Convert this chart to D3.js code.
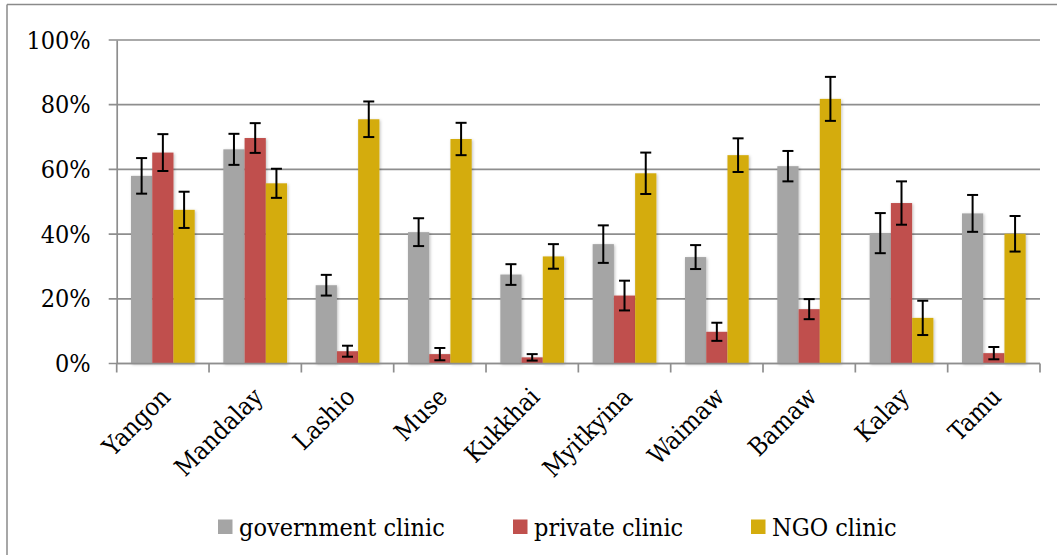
<!DOCTYPE html>
<html>
<head>
<meta charset="utf-8">
<script src="https://cdn.jsdelivr.net/npm/d3@7"></script>
<style>
  html, body { margin: 0; padding: 0; background: #fff; }
  svg { display: block; }
  text { font-family: "DejaVu Serif Condensed", "DejaVu Serif", serif; font-stretch: condensed; fill: #000; }
</style>
</head>
<body>
<svg id="chart" width="1057" height="555"></svg>
<script>
// Townships along the x axis
const townships = ["Yangon", "Mandalay", "Lashio", "Muse", "Kukkhai", "Myitkyina", "Waimaw", "Bamaw", "Kalay", "Tamu"];

// Clinic types (series)
const clinicTypes = ["government clinic", "private clinic", "NGO clinic"];

// Share of respondents per clinic type (%)
const governmentClinic = [58.0, 66.2, 24.2, 40.6, 27.5, 36.9, 32.9, 61.0, 40.3, 46.4];
const privateClinic    = [65.2, 69.7,  3.8,  2.9,  1.9, 21.0,  9.8, 16.8, 49.6,  3.2];
const ngoClinic        = [47.5, 55.7, 75.5, 69.4, 33.1, 58.8, 64.4, 81.8, 14.1, 40.1];

// Error-bar half widths (%)
const governmentErr = [5.5, 4.8, 3.2, 4.3, 3.2, 5.8, 3.7, 4.7, 6.2, 5.7];
const privateErr    = [5.7, 4.6, 1.7, 1.9, 1.0, 4.6, 2.8, 3.1, 6.7, 1.9];
const ngoErr        = [5.6, 4.5, 5.5, 5.0, 3.8, 6.4, 5.2, 6.8, 5.3, 5.5];

// Y-axis ticks
const yTicks = [0, 0.2, 0.4, 0.6, 0.8, 1.0];

const seriesValues = [governmentClinic, privateClinic, ngoClinic];
const seriesErrors = [governmentErr, privateErr, ngoErr];
const colors = ["#A5A5A5", "#C0504D", "#D4AC0D"];
const fontSize = "25px";

const svg = d3.select("#chart");

// drop shadow for the bars
const defs = svg.append("defs");
const f = defs.append("filter").attr("id", "shadow")
  .attr("x", "-30%").attr("y", "-10%").attr("width", "160%").attr("height", "120%");
f.append("feDropShadow").attr("dx", 1).attr("dy", 1).attr("stdDeviation", 1.6)
  .attr("flood-color", "#000").attr("flood-opacity", 0.25);

// outer frame
svg.append("line").attr("x1", 7).attr("x2", 1057).attr("y1", 4.5).attr("y2", 4.5)
  .attr("stroke", "#8a8a8a").attr("stroke-width", 1.5);
svg.append("line").attr("x1", 7).attr("x2", 7).attr("y1", 4.5).attr("y2", 555)
  .attr("stroke", "#8a8a8a").attr("stroke-width", 1.5);

const plotLeft = 116.7, plotRight = 1040, plotTop = 40, plotBottom = 363.5;

const x0 = d3.scaleBand().domain(townships).range([plotLeft, plotRight]).padding(0);
const x1 = d3.scaleBand().domain(d3.range(clinicTypes.length))
  .range([x0.bandwidth() * 0.155, x0.bandwidth() * 0.845]).padding(0);
const y = d3.scaleLinear().domain([0, 1]).range([plotBottom, plotTop]);

// gridlines
svg.append("g").selectAll("line").data(yTicks).join("line")
  .attr("x1", plotLeft - 8).attr("x2", plotRight)
  .attr("y1", d => y(d)).attr("y2", d => y(d))
  .attr("stroke", "#8e8e8e").attr("stroke-width", 1.7);

// y axis
const yAxis = d3.axisLeft(y).tickValues(yTicks).tickFormat(d3.format(".0%")).tickSize(0).tickPadding(26);
const gy = svg.append("g").attr("transform", `translate(${plotLeft},0)`).call(yAxis);
gy.select(".domain").attr("stroke", "#8e8e8e").attr("stroke-width", 1.7);
gy.selectAll("text")
  .style("font-family", '"DejaVu Serif Condensed", "DejaVu Serif", serif')
  .style("font-stretch", "condensed")
  .style("font-size", fontSize).attr("fill", "#000");

// bars
const groups = svg.append("g").selectAll("g").data(townships).join("g")
  .attr("transform", d => `translate(${x0(d)},0)`);

groups.selectAll("rect")
  .data((d, i) => seriesValues.map((s, k) => ({ k, v: s[i] / 100 })))
  .join("rect")
  .attr("x", d => x1(d.k))
  .attr("width", x1.bandwidth())
  .attr("y", d => y(d.v))
  .attr("height", d => y(0) - y(d.v))
  .attr("fill", d => colors[d.k])
  .attr("filter", "url(#shadow)");

// x axis baseline and category separators
svg.append("line").attr("x1", plotLeft).attr("x2", plotRight)
  .attr("y1", plotBottom).attr("y2", plotBottom)
  .attr("stroke", "#8e8e8e").attr("stroke-width", 1.7);
const sepPositions = townships.map(t => x0(t)).concat([x0(townships[townships.length - 1]) + x0.bandwidth()]);
svg.append("g").selectAll("line").data(sepPositions).join("line")
  .attr("x1", d => d).attr("x2", d => d)
  .attr("y1", plotBottom).attr("y2", plotBottom + 9)
  .attr("stroke", "#8e8e8e").attr("stroke-width", 1.7);

// error bars
const errData = [];
townships.forEach((t, i) => {
  seriesValues.forEach((s, k) => {
    errData.push({ t, k, v: s[i] / 100, e: seriesErrors[k][i] / 100 });
  });
});
const eb = svg.append("g").attr("stroke", "#000").attr("stroke-width", 2).attr("fill", "none");
const cx = d => x0(d.t) + x1(d.k) + x1.bandwidth() / 2;
eb.selectAll("line.v").data(errData).join("line").attr("class", "v")
  .attr("x1", cx).attr("x2", cx)
  .attr("y1", d => y(d.v + d.e)).attr("y2", d => y(Math.max(0, d.v - d.e)));
eb.selectAll("line.t").data(errData).join("line").attr("class", "t")
  .attr("x1", d => cx(d) - 5.5).attr("x2", d => cx(d) + 5.5)
  .attr("y1", d => y(d.v + d.e)).attr("y2", d => y(d.v + d.e));
eb.selectAll("line.b").data(errData).join("line").attr("class", "b")
  .attr("x1", d => cx(d) - 5.5).attr("x2", d => cx(d) + 5.5)
  .attr("y1", d => y(Math.max(0, d.v - d.e))).attr("y2", d => y(Math.max(0, d.v - d.e)));

// category labels, rotated
svg.append("g").selectAll("text").data(townships).join("text")
  .attr("transform", d => `translate(${x0(d) + x0.bandwidth() / 2 + 9},${plotBottom + 35}) rotate(-45)`)
  .attr("text-anchor", "end")
  .style("font-size", fontSize)
  .text(d => d);

// legend
const legendX = [218, 513, 751];
const legend = svg.append("g").selectAll("g").data(clinicTypes).join("g")
  .attr("transform", (d, i) => `translate(${legendX[i]},0)`);
legend.append("rect").attr("x", 0).attr("y", 519.5).attr("width", 14.5).attr("height", 14.5)
  .attr("fill", (d, i) => colors[i]);
legend.append("text").attr("x", 21).attr("y", 536).style("font-size", fontSize).text(d => d);
</script>
</body>
</html>
